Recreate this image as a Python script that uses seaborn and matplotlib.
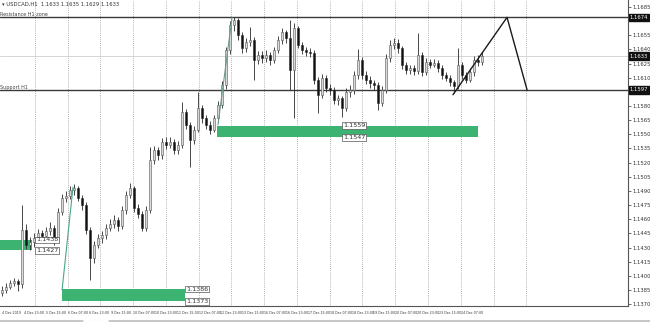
import matplotlib
matplotlib.use("Agg")
import matplotlib.pyplot as plt
import seaborn as sns
import numpy as np
from matplotlib.ticker import MultipleLocator, FuncFormatter, FixedLocator
from matplotlib.lines import Line2D

sns.set_theme(style="white")
plt.rcParams['font.family'] = ['DejaVu Sans']

# ---------------- data ----------------
symbol_text = "\u25BE USDCAD,H1  1.1633 1.1635 1.1629 1.1633"
first_open = 1.1382
closes = [1.1385, 1.1388, 1.1392, 1.1394, 1.1391, 1.1449, 1.1433, 1.1436, 1.1440, 1.1445,
          1.1442, 1.1447, 1.1451, 1.1438, 1.1468, 1.1483, 1.1485, 1.1491, 1.1493, 1.1483,
          1.1475, 1.1449, 1.1419, 1.1433, 1.1440, 1.1443, 1.1451, 1.1455, 1.1459, 1.1453,
          1.1470, 1.1486, 1.1493, 1.1472, 1.1466, 1.1451, 1.1470, 1.1523, 1.1533, 1.1528,
          1.1542, 1.1539, 1.1542, 1.1533, 1.1539, 1.1574, 1.1560, 1.1544, 1.1555, 1.1578,
          1.1567, 1.1560, 1.1555, 1.1567, 1.1581, 1.1602, 1.1639, 1.1666, 1.1671, 1.1655,
          1.1641, 1.1648, 1.1650, 1.1629, 1.1634, 1.1631, 1.1634, 1.1629, 1.1639, 1.1650,
          1.1658, 1.1652, 1.1618, 1.1663, 1.1645, 1.1639, 1.1637, 1.1636, 1.1608, 1.1592,
          1.1610, 1.1599, 1.1597, 1.1586, 1.1588, 1.1578, 1.1595, 1.1597, 1.1613, 1.1629,
          1.1613, 1.1608, 1.1604, 1.1602, 1.1583, 1.1597, 1.1631, 1.1645, 1.1647, 1.1641,
          1.1624, 1.1618, 1.1620, 1.1617, 1.1634, 1.1616, 1.1627, 1.1624, 1.1626, 1.1620,
          1.1613, 1.1610, 1.1605, 1.1601, 1.1624, 1.1613, 1.1608, 1.1616, 1.1629, 1.1627,
          1.1633]
highs = [1.1389, 1.1392, 1.1396, 1.1398, 1.1397, 1.1475, 1.1455, 1.1441, 1.1445, 1.1450,
         1.1449, 1.1452, 1.1457, 1.1454, 1.1472, 1.1487, 1.1490, 1.1495, 1.1497, 1.1495,
         1.1486, 1.1478, 1.1452, 1.1437, 1.1444, 1.1448, 1.1455, 1.1460, 1.1464, 1.1462,
         1.1474, 1.1490, 1.1498, 1.1495, 1.1476, 1.1469, 1.1474, 1.1537, 1.1538, 1.1537,
         1.1546, 1.1547, 1.1547, 1.1545, 1.1543, 1.1584, 1.1577, 1.1563, 1.1559, 1.1595,
         1.1581, 1.1570, 1.1564, 1.1571, 1.1585, 1.1606, 1.1643, 1.1670, 1.1674, 1.1673,
         1.1658, 1.1652, 1.1664, 1.1653, 1.1638, 1.1638, 1.1639, 1.1637, 1.1643, 1.1654,
         1.1663, 1.1661, 1.1671, 1.1668, 1.1665, 1.1648, 1.1643, 1.1641, 1.1639, 1.1611,
         1.1614, 1.1613, 1.1603, 1.1600, 1.1592, 1.1591, 1.1599, 1.1602, 1.1617, 1.1640,
         1.1632, 1.1617, 1.1612, 1.1608, 1.1605, 1.1601, 1.1635, 1.1650, 1.1652, 1.1651,
         1.1644, 1.1627, 1.1624, 1.1623, 1.1657, 1.1637, 1.1631, 1.1630, 1.1630, 1.1629,
         1.1623, 1.1616, 1.1613, 1.1608, 1.1642, 1.1627, 1.1616, 1.1620, 1.1633, 1.1634,
         1.1637]
lows = [1.1379, 1.1382, 1.1386, 1.1389, 1.1384, 1.1387, 1.1428, 1.1427, 1.1431, 1.1436,
        1.1437, 1.1438, 1.1443, 1.1433, 1.1435, 1.1464, 1.1478, 1.1481, 1.1486, 1.1479,
        1.1470, 1.1444, 1.1396, 1.1414, 1.1429, 1.1435, 1.1439, 1.1447, 1.1451, 1.1448,
        1.1450, 1.1466, 1.1482, 1.1468, 1.1461, 1.1447, 1.1448, 1.1467, 1.1519, 1.1523,
        1.1524, 1.1534, 1.1535, 1.1529, 1.1529, 1.1536, 1.1556, 1.1515, 1.1540, 1.1552,
        1.1562, 1.1556, 1.1550, 1.1552, 1.1563, 1.1578, 1.1598, 1.1635, 1.1660, 1.1650,
        1.1636, 1.1637, 1.1644, 1.1608, 1.1625, 1.1626, 1.1627, 1.1624, 1.1626, 1.1636,
        1.1646, 1.1647, 1.1597, 1.1567, 1.1641, 1.1635, 1.1633, 1.1632, 1.1603, 1.1573,
        1.1588, 1.1595, 1.1592, 1.1582, 1.1581, 1.1568, 1.1575, 1.1590, 1.1593, 1.1609,
        1.1609, 1.1603, 1.1599, 1.1597, 1.1576, 1.1580, 1.1594, 1.1627, 1.1640, 1.1636,
        1.1619, 1.1614, 1.1614, 1.1613, 1.1614, 1.1612, 1.1613, 1.1620, 1.1621, 1.1616,
        1.1609, 1.1606, 1.1601, 1.1594, 1.1598, 1.1609, 1.1604, 1.1605, 1.1612, 1.1622,
        1.1623]
opens = [first_open] + closes[:-1]

time_labels = ["4 Dec 2019", "4 Dec 23:00", "5 Dec 15:00", "6 Dec 07:00", "6 Dec 23:00",
               "9 Dec 15:00", "10 Dec 07:00", "10 Dec 23:00", "11 Dec 15:00", "12 Dec 07:00",
               "12 Dec 23:00", "13 Dec 15:00", "16 Dec 07:00", "16 Dec 23:00", "17 Dec 15:00",
               "18 Dec 07:00", "18 Dec 23:00", "19 Dec 15:00", "20 Dec 07:00", "20 Dec 23:00",
               "23 Dec 15:00", "24 Dec 07:00"]

resistance = 1.1674
support = 1.1597
bid_price = 1.1633
resistance_text = "Resistance H1 zone"
support_text = "Support H1"

# demand / supply zones: (start hour, end hour, low, high)
zone_start = [-1.5, 44.0, 157.5]
zone_end = [22.0, 134.0, 348.7]
zone_low = [1.1427, 1.1373, 1.1547]
zone_high = [1.1438, 1.1386, 1.1559]
zone_label_x = [24.9, 134.8, 249.8]

# zigzag pattern (hours, price)
pattern_t = [330.3, 369.9, 384.6]
pattern_p = [1.1592, 1.1674, 1.1597]
# trend lines from zones (hours, price)
trend1_t = [44.0, 52.0]
trend1_p = [1.1385, 1.1494]
trend2_t = [158.2, 168.5]
trend2_p = [1.1560, 1.1674]

# ---------------- layout ----------------
BAR_HOURS = 2.93
W, H = 650, 323
fig = plt.figure(figsize=(W / 100, H / 100), dpi=100)
fig.patch.set_facecolor("white")
ax = fig.add_axes([0, 17 / H, 628 / W, 306 / H])
ax.set_facecolor("white")

t = np.arange(len(closes)) * BAR_HOURS
o = np.array(opens); c = np.array(closes)
hi = np.array(highs); lo = np.array(lows)

# grid (vertical dotted)
for g in np.arange(24, 400, 24):
    ax.axvline(g, color="#9a9a9a", lw=0.6, ls=(0, (1, 1.5)), zorder=0)

# horizontal levels
ax.axhline(bid_price, color="#cfcfcf", lw=0.6, zorder=1)
ax.axhline(resistance, color="#3a3a3a", lw=1.0, zorder=2)
ax.axhline(support, color="#3a3a3a", lw=1.0, zorder=2)

# zones
zone_color = "#3cb371"
for xs, xe, zl, zh, lx in zip(zone_start, zone_end, zone_low, zone_high, zone_label_x):
    ax.fill_between([xs, xe], zl, zh, color=zone_color, lw=0, zorder=1)
    for val in (zh, zl):
        ax.text(lx, val, f"{val:.4f}", fontsize=4.6, color="#333333", ha="left", va="center",
                bbox=dict(boxstyle="square,pad=0.15", fc="white", ec="#555555", lw=0.5), zorder=6)

# candles
wick_color = "#2a2a2a"
ax.vlines(t, lo, hi, color=wick_color, lw=0.6, zorder=3)
bull = c >= o
body_low = np.minimum(o, c)
body_h = np.maximum(np.abs(c - o), 0.00005)
ax.bar(t[bull], body_h[bull], bottom=body_low[bull], width=BAR_HOURS * 0.5,
       color="#d9d9d9", edgecolor="#555555", lw=0.4, zorder=4)
ax.bar(t[~bull], body_h[~bull], bottom=body_low[~bull], width=BAR_HOURS * 0.5,
       color="#111111", edgecolor=wick_color, lw=0.4, zorder=4)

# trend lines & pattern via seaborn
sns.lineplot(x=trend1_t, y=trend1_p, ax=ax, color="#4aa58c", lw=0.8, sort=False, zorder=5)
sns.lineplot(x=trend2_t, y=trend2_p, ax=ax, color="#6a9a8c", lw=0.8, sort=False, zorder=5)
sns.lineplot(x=pattern_t, y=pattern_p, ax=ax, color="#1a1a1a", lw=1.0, sort=False, zorder=5)

# axes limits
ax.set_xlim(-1.46, 458.5)
ax.set_ylim(1.13680, 1.16924)

# y axis on the right (labels hidden where the boxed level labels sit)
boxed_levels = (resistance, bid_price, support)
def price_fmt(v, p):
    if any(abs(v - b) < 0.0004 for b in boxed_levels):
        return ""
    return f"{v:.4f}"
ax.yaxis.tick_right()
ax.yaxis.set_major_locator(MultipleLocator(0.0015))
ax.yaxis.set_major_formatter(FuncFormatter(price_fmt))
ax.tick_params(axis="y", which="major", direction="out", length=2, width=0.5,
               labelsize=3.8, colors="#333333", pad=1.2, right=True, left=False)
# x axis labels
ax.xaxis.set_major_locator(FixedLocator([16 * k for k in range(len(time_labels))]))
ax.set_xticklabels(time_labels)
ax.tick_params(axis="x", which="major", direction="out", length=2, width=0.5,
               labelsize=2.3, colors="#333333", pad=1.5)
for lab in ax.get_xticklabels():
    lab.set_ha("left")

for side in ("left", "top"):
    ax.spines[side].set_visible(False)
for side in ("right", "bottom"):
    ax.spines[side].set_color("#555555")
    ax.spines[side].set_linewidth(0.8)

# boxed price labels on the axis
for val in boxed_levels:
    ax.annotate(f"{val:.4f}", xy=(1.0, val), xycoords=("axes fraction", "data"),
                xytext=(1.2, 0), textcoords="offset points", fontsize=3.8, color="white",
                ha="left", va="center", annotation_clip=False,
                bbox=dict(boxstyle="square,pad=0.2", fc="#111111", ec="#111111"), zorder=7)

# header and level captions
ax.text(0.003, 0.995, symbol_text, transform=ax.transAxes, fontsize=3.8, color="#333333",
        ha="left", va="top")
ax.text(0.0, resistance, resistance_text, fontsize=3.5, color="#444444", ha="left",
        va="bottom", transform=ax.get_yaxis_transform(which="grid"))
ax.text(0.0, support, support_text, fontsize=3.5, color="#444444", ha="left",
        va="bottom", transform=ax.get_yaxis_transform(which="grid"))
ax.set_xlabel(""); ax.set_ylabel("")

# bottom scrollbar line
fig.add_artist(Line2D([0, 1], [2.5 / H, 2.5 / H], color="#bdbdbd", lw=1.2, transform=fig.transFigure))
fig.add_artist(Line2D([84 / W, 108 / W], [2.5 / H, 2.5 / H], color="white", lw=1.4, transform=fig.transFigure))

fig.savefig("out.png", dpi=100, facecolor="white")
